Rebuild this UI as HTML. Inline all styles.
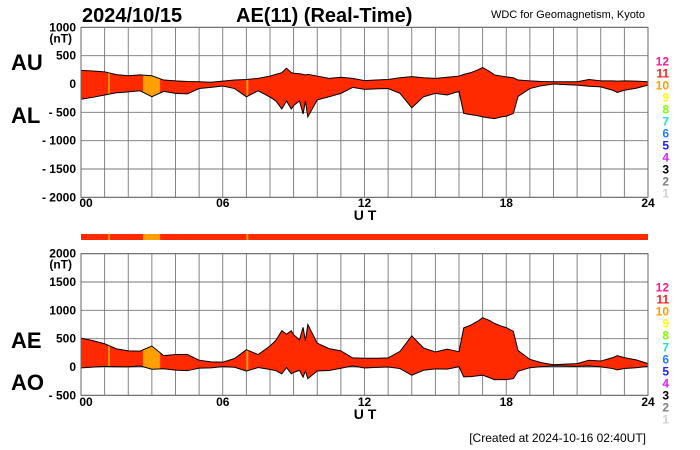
<!DOCTYPE html>
<html><head><meta charset="utf-8"><style>
body{margin:0;background:#fff;}
svg{display:block;font-family:"Liberation Sans",sans-serif;}
.tk{font-size:12px;font-weight:bold;text-anchor:end;}
.xt{font-size:12px;font-weight:bold;text-anchor:middle;}
.big{font-size:22px;font-weight:bold;}
</style></head><body>
<svg id="c" width="700" height="450">
<text x="82" y="22" font-size="20" font-weight="bold">2024/10/15</text>
<text x="236" y="22" font-size="20" font-weight="bold">AE(11) (Real-Time)</text>
<text x="645" y="18" font-size="11" text-anchor="end">WDC for Geomagnetism, Kyoto</text>
<text x="11" y="70" class="big">AU</text>
<text x="11" y="123" class="big">AL</text>
<text x="11" y="348" class="big">AE</text>
<text x="11" y="390" class="big">AO</text>
<text x="646" y="442" font-size="12" text-anchor="end">[Created at 2024-10-16 02:40UT]</text>
<g id="g"></g>
</svg>
<script>
const hours=[0,0.5,1,1.5,2,2.5,3,3.5,4,4.5,5,5.5,6,6.5,7,7.5,8,8.25,8.5,8.7,8.9,9,9.25,9.4,9.5,9.6,10,10.5,11,11.5,12,12.5,13,13.5,14,14.5,15,15.5,16,16.2,16.5,16.8,17,17.3,17.5,17.8,18,18.3,18.5,19,19.5,20,20.5,21,21.5,22,22.5,22.7,23,23.5,24];
const auValues=[240,230,215,165,145,160,145,70,55,45,40,30,50,70,80,100,140,170,200,280,200,190,180,170,160,170,140,100,120,100,60,70,80,110,130,110,100,120,140,170,200,250,290,220,160,140,125,110,70,55,45,40,40,40,80,55,55,50,55,50,40];
const alValues=[-270,-235,-195,-155,-140,-120,-225,-130,-165,-175,-80,-60,-35,-80,-225,-120,-230,-300,-440,-300,-440,-380,-300,-530,-300,-580,-280,-225,-165,-60,-95,-85,-80,-165,-420,-225,-165,-195,-130,-520,-540,-560,-580,-600,-610,-580,-570,-520,-220,-80,-30,0,-10,-20,-40,-50,-110,-150,-110,-75,-20];
const stationSegStart=[1.15,2.62,7.0];
const stationSegEnd=[1.22,3.35,7.08];
const topTicks=[1000,500,0,-500,-1000,-1500,-2000];
const botTicks=[2000,1500,1000,500,0,-500];
const xTicks=["00","06","12","18","24"];
const legendNums=[12,11,10,9,8,7,6,5,4,3,2,1];
const legendCols=["#ff1a8c","#ff2020","#ffa000","#ffff00","#80ff00","#20e0d0","#2080ff","#2020ff","#e020ff","#000","#808080","#d0d0d0"];

const NS="http://www.w3.org/2000/svg",g=document.getElementById('g');
const X0=81,X1=648;
const xs=h=>X0+(X1-X0)*h/24;
const yTop=v=>84-v*28.33/500;
const yBot=v=>367-v*28.33/500;
function mk(t,a,p){const e=document.createElementNS(NS,t);for(const k in a)e.setAttribute(k,a[k]);(p||g).appendChild(e);return e;}
const aeValues=auValues.map((u,i)=>u-alValues[i]);
const aoValues=auValues.map((u,i)=>(u+alValues[i])/2);

function panel(yf,ticks,hi,lo,ymin,ymax,name,xlabY){
  const pg=mk('g',{});
  
  
  for(let h=0;h<=24;h++)mk('line',{x1:xs(h),x2:xs(h),y1:ymin,y2:ymax,stroke:'#777','stroke-width':0.9},pg);
  ticks.forEach(v=>mk('line',{x1:X0,x2:X1,y1:yf(v),y2:yf(v),stroke:'#777','stroke-width':0.9},pg));
  const clipId=name+'clip';
  const cp=mk('clipPath',{id:clipId},pg);
  let d='M'+hours.map((h,i)=>xs(h)+','+yf(hi[i])).join('L');
  for(let i=hours.length-1;i>=0;i--)d+='L'+xs(hours[i])+','+yf(lo[i]);
  d+='Z';
  mk('path',{d:d},cp);
  const fg=mk('g',{'clip-path':'url(#'+clipId+')'},pg);
  const fr=mk('rect',{x:X0,y:ymin,width:X1-X0,height:ymax-ymin,fill:'#ff2a00'},fg);
  
  
  stationSegStart.forEach((s,i)=>{
    const r=mk('rect',{x:xs(s),y:ymin,width:Math.max(1.5,xs(stationSegEnd[i])-xs(s)),height:ymax-ymin,fill:'#ffa000'},fg);
    
    
  });
  const l1=mk('polyline',{points:hours.map((h,i)=>xs(h)+','+yf(hi[i])).join(' '),fill:'none',stroke:'#000','stroke-width':1},pg);
  
  
  const l2=mk('polyline',{points:hours.map((h,i)=>xs(h)+','+yf(lo[i])).join(' '),fill:'none',stroke:'#000','stroke-width':1},pg);
  
  
  mk('rect',{x:X0,y:ymin,width:X1-X0,height:ymax-ymin,fill:'none',stroke:'#666','stroke-width':1},pg);
  ticks.forEach((v,i)=>{
    const t=mk('text',{x:76,y:yf(v)+4,class:'tk'},pg);
    t.textContent=(v<0?'- ':'')+Math.abs(v);
    
    
    if(i==0){const u=mk('text',{x:72,y:yf(v)+15,class:'tk'},pg);u.textContent='(nT)';
      
      }
  });
  xTicks.forEach((s,i)=>{
    const t=mk('text',{x:xs(i*6)+(i==0?5:0),y:xlabY,class:'xt'},pg);t.textContent=s;
    
    
  });
  const ut=mk('text',{x:365,y:xlabY+13,'font-size':14,'font-weight':'bold','text-anchor':'middle'},pg);ut.textContent='U T';
  
  
  legendNums.forEach((n,i)=>{
    const t=mk('text',{x:669,y:ymin+38+i*12,'font-size':12,'font-weight':'bold','text-anchor':'end',fill:legendCols[i]},pg);t.textContent=n;
    
    
  });
}
panel(yTop,topTicks,auValues,alValues,yTop(1000),yTop(-2000),'au-al',207);
panel(yBot,botTicks,aeValues,aoValues,yBot(2000),yBot(-500),'ae-ao',406);
const bar=mk('rect',{x:X0,y:234,width:X1-X0,height:6,fill:'#ff2a00'});


stationSegStart.forEach((s,i)=>{
  const r=mk('rect',{x:xs(s),y:234,width:Math.max(1.5,xs(stationSegEnd[i])-xs(s)),height:6,fill:'#ffa000'});
  
  
});
</script>
</body></html>
